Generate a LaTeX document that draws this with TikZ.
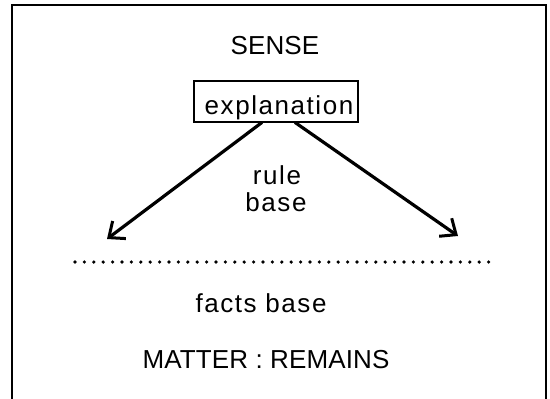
\documentclass[tikz,border=0pt]{standalone}
\usepackage{fontspec}
\setmainfont{Liberation Sans}
\newfontfamily\lowfont[LetterSpace=6]{Liberation Sans}
\newfontfamily\capfont[LetterSpace=0.5]{Liberation Sans}
\usetikzlibrary{arrows.meta}
\begin{document}
\begin{tikzpicture}[x=1pt,y=-1pt,
  lbl/.style={inner sep=0pt,anchor=base,font=\capfont\fontsize{26}{30}\selectfont},
  low/.style={lbl,font=\lowfont\fontsize{26}{30}\selectfont},
  arr/.style={line width=3.2pt,-{Straight Barb[length=13pt,width=22pt,line width=3pt]}}]
\useasboundingbox (0,0) rectangle (550,399);
% frame (open at the bottom)
\draw[line width=1.6pt] (12,5) -- (546,5);
\draw[line width=2.4pt] (12,399) -- (12,4.2);
\draw[line width=2.4pt] (546,399) -- (546,4.2);
\node[lbl] (sense) at (275,54) {SENSE};
\node[draw,line width=2.5pt,minimum width=164pt,minimum height=41pt,inner sep=0pt] (box) at (276,101.5) {};
\node[low] (expl) at (279,114) {explanation};
\coordinate (ls) at (262,122.4);
\coordinate (rs) at (295,122.4);
\coordinate (lt) at (107,239);
\coordinate (rt) at (458,236);
\draw[arr] (ls) -- (lt);
\draw[arr] (rs) -- (rt);
\node[low] (rule) at (277,184) {rule};
\node[low] (rbase) at (276,211) {base};
\coordinate (d1) at (75,262);
\coordinate (d2) at (489,262);
\draw[line width=3.6pt,line cap=round,dash pattern=on 0pt off 9.4pt] (d1) -- (d2);
\node[low] (facts) at (261,312) {facts base};
\node[lbl] (matter) at (266,368) {MATTER : REMAINS};
\end{tikzpicture}
\end{document}
